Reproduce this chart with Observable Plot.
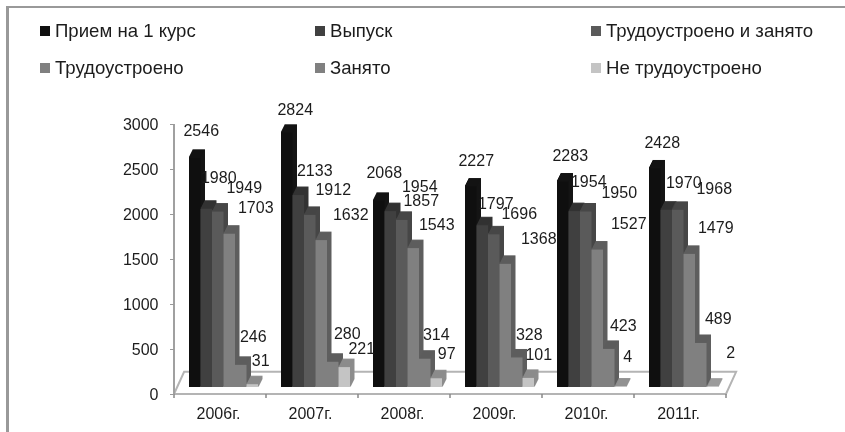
<!DOCTYPE html>
<html><head><meta charset="utf-8">
<script src="https://cdn.jsdelivr.net/npm/d3@7"></script>
<script src="https://cdn.jsdelivr.net/npm/@observablehq/plot@0.6"></script>
<style>
html,body{margin:0;padding:0;background:#fff}
#wrap{position:relative;width:845px;height:432px;overflow:hidden;font-family:"Liberation Sans",Arial,sans-serif;color:#1c1c1c;filter:blur(0.35px)}
#edge{position:absolute;left:6px;top:6px;right:-10px;bottom:-10px;border-top:2px solid #999;border-left:3px solid #999}
#chart{position:absolute;left:0;top:0}
.lg{position:absolute;font-size:18.6px;line-height:20px;white-space:nowrap}
.lg i{position:absolute;left:-15px;top:5px;width:10px;height:10px}
</style></head><body>
<div id="wrap"><div id="edge"></div><div id="chart"></div></div>
<script>
const years = ["2006г.","2007г.","2008г.","2009г.","2010г.","2011г."];
const series = ["Прием на 1 курс","Выпуск","Трудоустроено и занято","Трудоустроено","Занято","Не трудоустроено"];
const admitted = [2546,2824,2068,2227,2283,2428];
const graduated = [1980,2133,1954,1797,1954,1970];
const placedTotal = [1949,1912,1857,1696,1950,1968];
const placed = [1703,1632,1543,1368,1527,1479];
const occupied = [246,280,314,328,423,489];
const notPlaced = [31,221,97,101,4,2];
const seriesValues = [admitted,graduated,placedTotal,placed,occupied,notPlaced];

const faceColors = ["#0f0f0f","#404040","#5a5a5a","#808080","#808080","#c4c4c4"];
const sideColors = ["#141414","#333333","#474747","#5e5e5e","#5e5e5e","#8c8c8c"];
// label offsets from each bar's value position: [dx, dy] by series, per year
const labelOffsets = [
 [[6,-34],[12,-38],[26,-31],[26,-33],[12,-35],[8,-31]],
 [[8,-30],[16,-32],[23,-33],[29,-33],[14,-35],[17,-26]],
 [[5,-36],[29,-32],[19,-26],[23,-31],[11,-31],[10,-32]],
 [[5,-33],[13,-29],[25,-28],[33,-33],[12,-30],[10,-31]],
 [[7,-33],[14,-37],[33,-26],[31,-33],[14,-31],[7,-37]],
 [[7,-33],[17,-34],[36,-29],[26,-34],[17,-32],[18,-41]]
];

const rows = years.flatMap((year,i)=>series.map((s,j)=>({year,series:s,value:seriesValues[j][i],j,i})));
const base = -7, depth = 8;

const sideBar = (dx,dy)=>Plot.barY(rows,{fx:"year",x:"series",y:"value",
  fill:{value:d=>sideColors[d.j],scale:null},stroke:{value:d=>sideColors[d.j],scale:null},strokeWidth:1,dx,dy});
const frontBar = Plot.barY(rows,{fx:"year",x:"series",y:"value",
  fill:{value:d=>faceColors[d.j],scale:null},dx:0,dy:base});

const layers = d3.range(depth,0,-1).map(k=>sideBar(k/2,base-k));

const labels = rows.map(d=>Plot.text([d],{fx:"year",x:"series",y:"value",text:d=>String(d.value),
  dx:labelOffsets[d.i][d.j][0],dy:labelOffsets[d.i][d.j][1],fontSize:16,fill:"#1c1c1c",textAnchor:"middle"}));

// floor, axis line and boundary ticks, derived from the plot's own scales.
// Function marks repeat per facet; only the first facet (no translation) draws them.
let floorDrawn = false;
function floor(index,scales){
  if(floorDrawn) return null;
  floorDrawn = true;
  const g = d3.create("svg:g");
  const y0 = scales.y(0), y3 = scales.y(3000);
  const step = scales.fx.step();
  const L = scales.fx(years[0]), R = scales.fx(years[years.length-1])+scales.fx.bandwidth();
  const backX = step*0.11, backY = -(y0-y3)*0.082;
  g.append("path").attr("d",`M${L},${y0}L${R},${y0}L${R+backX},${y0+backY}L${L+backX},${y0+backY}Z`)
    .attr("fill","#fff").attr("stroke","#b4b4b4").attr("stroke-width",2);
  g.append("path").attr("d",`M${L},${y3}L${L},${y0}`).attr("stroke","#a0a0a0").attr("stroke-width",2).attr("fill","none");
  for(let k=0;k<=years.length;k++){
    g.append("path").attr("d",`M${L+k*step},${y0}v4`).attr("stroke","#888").attr("stroke-width",1.5);
  }
  return g.node();
}

const svg = Plot.plot({
  width:845,height:432,
  marginLeft:174,marginRight:119,marginTop:124,marginBottom:38,
  style:{fontFamily:'"Liberation Sans",Arial,sans-serif',background:"transparent",color:"#1c1c1c",overflow:"visible"},
  fx:{domain:years,padding:0,round:false,axis:null},
  x:{type:"band",domain:series,range:[189,258],padding:0,round:false,axis:null},
  y:{domain:[0,3000],axis:null},
  marks:[
    floor,
    Plot.axisY({ticks:[0,500,1000,1500,2000,2500,3000],tickSize:4,tickPadding:12,label:null,fontSize:16,stroke:"#999",tickFormat:d=>String(d)}),
    Plot.axisFx({anchor:"bottom",tickSize:0,tickPadding:13,label:null,fontSize:16,dx:-2}),
    ...layers,
    frontBar,
    ...labels
  ]
});
document.getElementById("chart").append(svg);

const colX=[55,330,606], rowY=[21,58];
const wrap=document.getElementById("wrap");
series.forEach((s,j)=>{
  const el=document.createElement("div");el.className="lg";
  el.style.left=colX[j%3]+"px";el.style.top=rowY[Math.floor(j/3)]+"px";
  el.innerHTML=`<i style="background:${faceColors[j]}"></i>`+s;
  wrap.append(el);
});
</script>
</body></html>
